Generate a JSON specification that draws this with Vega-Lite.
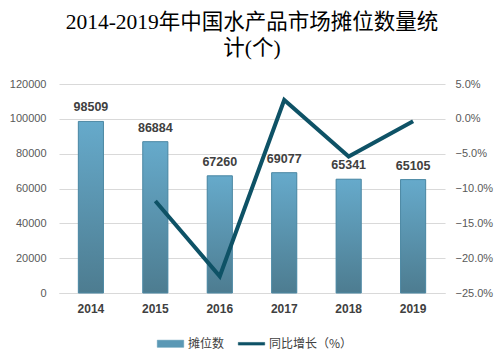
{
  "$schema": "https://vega.github.io/schema/vega-lite/v6.json",
  "width": 386,
  "height": 209,
  "autosize": "none",
  "padding": {"left": 59, "top": 84, "right": 56, "bottom": 68},
  "background": "white",
  "config": {"view": {"stroke": null}},
  "title": {
    "text": ["2014-2019年中国水产品市场摊位数量统", "计(个)"],
    "font": "Liberation Serif, Noto Sans CJK SC",
    "fontSize": 21.5,
    "fontWeight": "normal",
    "color": "#000000",
    "anchor": "middle",
    "lineHeight": 26,
    "offset": 19
  },
  "data": {
    "values": [
      {"year": "2014", "count": 98509, "growth": null},
      {"year": "2015", "count": 86884, "growth": -0.118},
      {"year": "2016", "count": 67260, "growth": -0.226},
      {"year": "2017", "count": 69077, "growth": 0.027},
      {"year": "2018", "count": 65341, "growth": -0.054},
      {"year": "2019", "count": 65105, "growth": -0.0036}
    ]
  },
  "encoding": {
    "x": {
      "field": "year",
      "type": "ordinal",
      "scale": {"paddingInner": 0.61, "paddingOuter": 0.3},
      "axis": {
        "title": null,
        "labelAngle": 0,
        "labelFont": "Liberation Sans",
        "labelFontSize": 12,
        "labelFontWeight": "bold",
        "labelColor": "#404040",
        "domain": true,
        "domainColor": "#d9d9d9",
        "ticks": false,
        "labelPadding": 10
      }
    }
  },
  "layer": [
    {
      "encoding": {
        "y": {
          "field": "count",
          "type": "quantitative",
          "scale": {"domain": [0, 120000]},
          "axis": {
            "title": null,
            "values": [0, 20000, 40000, 60000, 80000, 100000, 120000],
            "format": "d",
            "domain": false,
            "ticks": false,
            "labelPadding": 13,
            "labelFont": "Liberation Sans",
            "labelFontSize": 11,
            "labelColor": "#595959",
            "grid": true,
            "gridColor": "#d9d9d9"
          }
        }
      },
      "layer": [
        {
          "mark": {"type": "bar"},
          "encoding": {
            "color": {
              "datum": "摊位数",
              "scale": {"domain": ["摊位数", "同比增长（%）"], "range": ["#5a98b5", "#0e5266"]},
              "legend": {
                "title": null,
                "orient": "none",
                "legendX": 98,
                "legendY": 246,
                "direction": "horizontal",
                "columnPadding": 12,
                "labelOffset": 4,
                "labelFont": "Noto Sans CJK SC",
                "labelFontSize": 12,
                "labelColor": "#404040",
                "symbolSize": 700,
                "encode": {
                  "symbols": {
                    "update": {
                      "shape": [
                        {"test": "datum.value === '摊位数'", "value": "M-1,-0.27H1V0.27H-1Z"},
                        {"value": "M-1,-0.1H1V0.1H-1Z"}
                      ],
                      "fill": [
                        {"test": "datum.value === '摊位数'", "value": "#5e9dba"},
                        {"value": "#0e5266"}
                      ],
                      "stroke": [
                        {"test": "datum.value === '摊位数'", "value": "#4f8aa5"},
                        {"value": "#0e5266"}
                      ],
                      "strokeWidth": {"value": 0.5},
                      "opacity": {"value": 1},
                      "fillOpacity": {"value": 1}
                    }
                  }
                }
              }
            }
          }
        },
        {
          "mark": {
            "type": "bar",
            "stroke": "#4f8aa5",
            "strokeWidth": 1,
            "color": {
              "gradient": "linear",
              "x1": 0, "y1": 0, "x2": 0, "y2": 1,
              "stops": [
                {"offset": 0, "color": "#66aacb"},
                {"offset": 1, "color": "#4d7c90"}
              ]
            }
          }
        },
        {
          "mark": {
            "type": "text",
            "dy": -14,
            "font": "Liberation Sans",
            "fontSize": 12.5,
            "fontWeight": "bold",
            "color": "#404040"
          },
          "encoding": {"text": {"field": "count", "type": "quantitative", "format": "d"}}
        }
      ]
    },
    {
      "transform": [{"filter": "datum.growth != null"}],
      "mark": {"type": "line", "strokeWidth": 4, "strokeJoin": "miter"},
      "encoding": {
        "y": {
          "field": "growth",
          "type": "quantitative",
          "scale": {"domain": [-0.25, 0.05]},
          "axis": {
            "orient": "right",
            "title": null,
            "values": [-0.25, -0.2, -0.15, -0.1, -0.05, 0, 0.05],
            "format": ".1%",
            "domain": false,
            "ticks": false,
            "grid": false,
            "labelPadding": 10,
            "labelFont": "Liberation Sans",
            "labelFontSize": 11,
            "labelColor": "#595959"
          }
        },
        "color": {"datum": "同比增长（%）"}
      }
    }
  ],
  "resolve": {"scale": {"y": "independent"}}
}
